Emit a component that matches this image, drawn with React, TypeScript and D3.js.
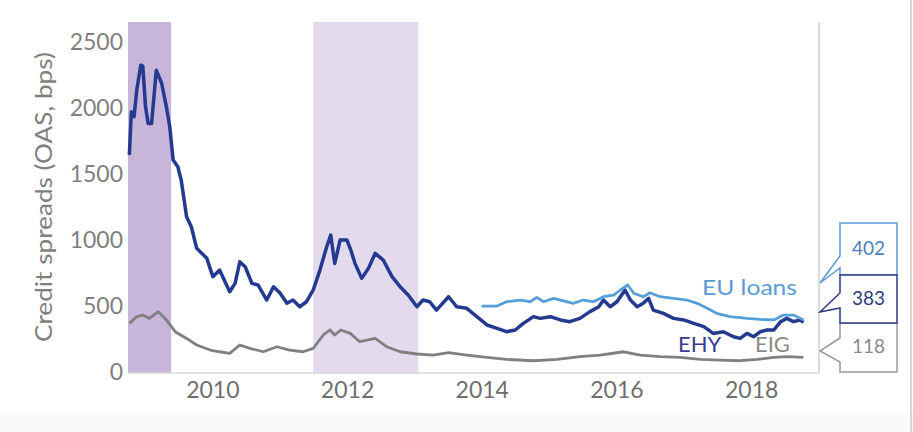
import * as d3 from "d3";

// decimal year, spread in bps
const ehy: [number, number][] = [
  [2008.76, 1652], [2008.79, 1980], [2008.83, 1942], [2008.87, 2144], [2008.93, 2333],
  [2008.96, 2326], [2009.0, 2017], [2009.04, 1890], [2009.09, 1890], [2009.16, 2295],
  [2009.24, 2195], [2009.31, 2017], [2009.36, 1866], [2009.41, 1614], [2009.48, 1563],
  [2009.53, 1462], [2009.61, 1184], [2009.68, 1108], [2009.76, 945], [2009.91, 869],
  [2010.0, 730], [2010.1, 780], [2010.25, 616], [2010.33, 679], [2010.4, 843],
  [2010.48, 805], [2010.58, 679], [2010.67, 667], [2010.8, 553], [2010.9, 654],
  [2011.0, 604], [2011.1, 528], [2011.19, 553], [2011.29, 502], [2011.39, 540],
  [2011.49, 629], [2011.59, 780], [2011.69, 957], [2011.75, 1045], [2011.81, 830],
  [2011.89, 1008], [2011.99, 1008], [2012.05, 930], [2012.11, 831], [2012.21, 717],
  [2012.31, 793], [2012.41, 907], [2012.53, 856], [2012.66, 730], [2012.78, 654],
  [2012.9, 591], [2013.03, 502], [2013.12, 553], [2013.22, 540], [2013.32, 477],
  [2013.5, 578], [2013.62, 502], [2013.77, 490], [2013.92, 427], [2014.07, 364],
  [2014.22, 338], [2014.36, 313], [2014.49, 326], [2014.61, 376], [2014.76, 427],
  [2014.86, 414], [2015.01, 427], [2015.16, 402], [2015.3, 389], [2015.45, 414],
  [2015.6, 465], [2015.73, 502], [2015.8, 553], [2015.9, 502], [2016.0, 540],
  [2016.12, 629], [2016.2, 553], [2016.3, 502], [2016.39, 528], [2016.47, 566],
  [2016.54, 477], [2016.69, 452], [2016.84, 414], [2016.99, 402], [2017.14, 376],
  [2017.29, 351], [2017.43, 300], [2017.58, 313], [2017.73, 275], [2017.83, 262],
  [2017.93, 300], [2018.03, 275], [2018.13, 313], [2018.23, 326], [2018.33, 326],
  [2018.43, 389], [2018.52, 414], [2018.62, 389], [2018.72, 402], [2018.77, 383],
];

const eig: [number, number][] = [
  [2008.76, 376], [2008.87, 427], [2008.96, 439], [2009.06, 414], [2009.19, 465],
  [2009.31, 402], [2009.44, 313], [2009.61, 262], [2009.76, 212], [2009.96, 174],
  [2010.1, 161], [2010.25, 149], [2010.4, 212], [2010.55, 187], [2010.75, 161],
  [2010.95, 199], [2011.14, 174], [2011.34, 161], [2011.49, 187], [2011.64, 288],
  [2011.74, 326], [2011.81, 288], [2011.9, 326], [2012.04, 300], [2012.18, 237],
  [2012.41, 262], [2012.58, 199], [2012.78, 161], [2013.03, 144], [2013.27, 136],
  [2013.5, 154], [2013.77, 136], [2014.07, 118], [2014.36, 103], [2014.76, 93],
  [2015.11, 103], [2015.45, 124], [2015.75, 136], [2016.1, 161], [2016.35, 136],
  [2016.64, 124], [2016.94, 118], [2017.24, 103], [2017.53, 98], [2017.83, 93],
  [2018.08, 103], [2018.33, 118], [2018.52, 124], [2018.77, 118],
];

const euLoans: [number, number][] = [
  [2013.99, 507], [2014.22, 507], [2014.36, 540], [2014.56, 553], [2014.71, 540],
  [2014.81, 573], [2014.91, 540], [2015.06, 566], [2015.16, 553], [2015.35, 528],
  [2015.5, 553], [2015.65, 540], [2015.8, 578], [2015.95, 591], [2016.05, 629],
  [2016.16, 667], [2016.25, 604], [2016.39, 578], [2016.49, 608], [2016.64, 578],
  [2016.84, 566], [2017.04, 553], [2017.19, 528], [2017.34, 490], [2017.48, 452],
  [2017.68, 427], [2017.93, 414], [2018.13, 406], [2018.33, 402], [2018.47, 439],
  [2018.62, 439], [2018.77, 402],
];

// recession shading (start, end)
const recessions: [number, number][] = [
  [2008.74, 2009.38],
  [2011.49, 2013.05],
];

const yTicks = [0, 500, 1000, 1500, 2000, 2500];
const xTicks = [2010, 2012, 2014, 2016, 2018];

// end-value callouts (box extents and pointer in pixels)
const callouts = [
  { label: "402", color: "#5b9bd5", text: "#4f7fb8", top: 223, bottom: 275, p1: 256, p2: 268, tipY: 283 },
  { label: "118", color: "#9a9a9a", text: "#8a8a8a", top: 323, bottom: 372, p1: 338, p2: 362, tipY: 351 },
  { label: "383", color: "#2e3a80", text: "#2e3a80", top: 275, bottom: 323, p1: 293, p2: 308, tipY: 312 },
];

const W = 913;
const H = 432;
const font = "Lato, 'Open Sans', sans-serif";

export default function App() {
  const x = d3.scaleLinear().domain([2008.74, 2019.0]).range([128, 819]);
  const y = d3.scaleLinear().domain([0, 2660]).range([373, 22]);
  const line = d3
    .line<[number, number]>()
    .x((d) => x(d[0]))
    .y((d) => y(d[1]));

  const tipX = x(2019.0) + 1;
  const boxL = 840;
  const boxR = 897;

  return (
    <div style={{ position: "absolute", left: 0, top: 0 }}>
      <svg width={W} height={H} style={{ display: "block", background: "#fff" }}>
        <rect x={0} y={413} width={W} height={H - 413} fill="#fafafa" />
        <line x1={911} x2={911} y1={0} y2={H} stroke="#d6d6d6" strokeWidth={2} />

        {recessions.map(([a, b], i) => (
          <rect
            key={i}
            x={x(a)}
            y={y(2660)}
            width={x(b) - x(a)}
            height={y(0) - y(2660)}
            fill={i === 0 ? "#c8b6da" : "#e3daee"}
          />
        ))}

        <line x1={x(2008.74)} x2={x(2019)} y1={y(0)} y2={y(0)} stroke="#d9d9d9" strokeWidth={1.5} />
        <line x1={x(2019)} x2={x(2019)} y1={y(2660)} y2={y(0)} stroke="#cfcfcf" strokeWidth={1.5} />

        {yTicks.map((t) => (
          <text
            key={t}
            x={123}
            y={y(t) + 1}
            textAnchor="end"
            dominantBaseline="middle"
            fontFamily={font}
            fontSize={23}
            fill="#7f7f7f"
          >
            {t}
          </text>
        ))}
        {xTicks.map((t) => (
          <text
            key={t}
            x={x(t)}
            y={392}
            textAnchor="middle"
            dominantBaseline="middle"
            fontFamily={font}
            fontSize={23}
            fill="#6f6f6f"
          >
            {t}
          </text>
        ))}
        <text
          transform="translate(46,197) rotate(-90)"
          textAnchor="middle"
          dominantBaseline="middle"
          fontFamily={font}
          fontSize={23}
          textLength={290}
          lengthAdjust="spacingAndGlyphs"
          fill="#7f7f7f"
        >
          Credit spreads (OAS, bps)
        </text>

        <path d={line(eig) ?? ""} fill="none" stroke="#808080" strokeWidth={2.8} strokeLinejoin="round" />
        <path d={line(ehy) ?? ""} fill="none" stroke="#233a8f" strokeWidth={3.5} strokeLinejoin="round" />
        <path d={line(euLoans) ?? ""} fill="none" stroke="#55a0da" strokeWidth={2.8} strokeLinejoin="round" />

        <text x={702} y={295} fontFamily={font} fontSize={22} textLength={95} lengthAdjust="spacingAndGlyphs" fill="#5b9bd5">
          EU loans
        </text>
        <text x={678} y={352} fontFamily={font} fontSize={22} fill="#3b3b8f">
          EHY
        </text>
        <text x={755} y={352} fontFamily={font} fontSize={22} fill="#8a8a8a">
          EIG
        </text>

        {callouts.map((c) => {
          const d = `M${boxL},${c.top} L${boxR},${c.top} L${boxR},${c.bottom} L${boxL},${c.bottom} L${boxL},${c.p2} L${tipX},${c.tipY} L${boxL},${c.p1} Z`;
          return (
            <g key={c.label}>
              <path d={d} fill="#fff" stroke={c.color} strokeWidth={1.5} />
              <text
                x={(boxL + boxR) / 2}
                y={(c.top + c.bottom) / 2 + 1}
                textAnchor="middle"
                dominantBaseline="middle"
                fontFamily={font}
                fontSize={19}
                fill={c.text}
              >
                {c.label}
              </text>
            </g>
          );
        })}
      </svg>
    </div>
  );
}
